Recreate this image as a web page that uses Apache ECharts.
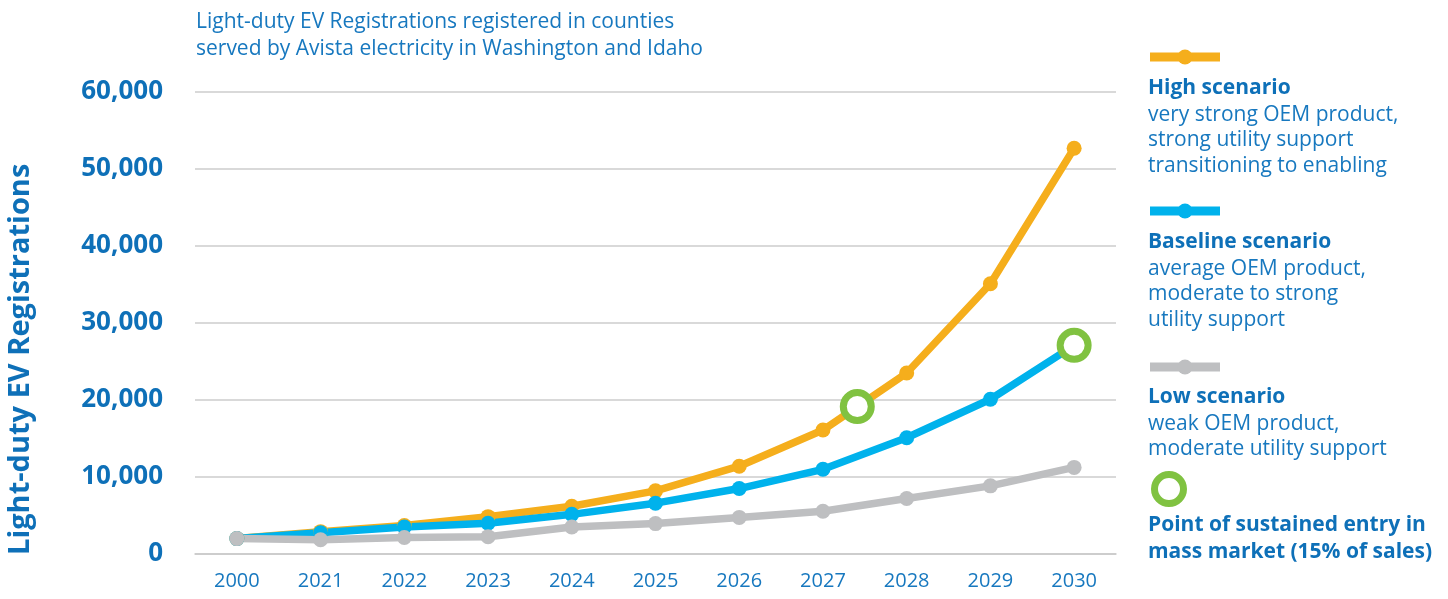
<!DOCTYPE html>
<html>
<head>
<meta charset="utf-8">
<script src="https://cdn.jsdelivr.net/npm/echarts@6/dist/echarts.min.js"></script>
<style>
  html, body { margin: 0; padding: 0; background: #fff; }
  #chart { width: 1448px; height: 599px; }
</style>
</head>
<body>
<div id="chart"></div>
<script>
const years = ['2000', '2021', '2022', '2023', '2024', '2025', '2026', '2027', '2028', '2029', '2030']
const highScenario = [2000, 2900, 3700, 4850, 6200, 8200, 11400, 16100, 23500, 35100, 52700]
const baselineScenario = [2000, 2750, 3500, 4000, 5150, 6600, 8500, 11000, 15100, 20100, 27100]
const lowScenario = [2000, 1850, 2150, 2250, 3500, 3950, 4750, 5550, 7200, 8850, 11250]
// position along the year axis (index), registrations
const massMarketPoints = [[7.41, 19150], [10, 27100]]

const ORANGE = '#F5AE1C'
const BLUE = '#00B2EC'
const GREY = '#BEBFC1'
const GREEN = '#80C241'
const TEXT = '#1778BF'
const LABEL = '#0E70B8'
const FONT = '"Open Sans", "Noto Sans", sans-serif'

const chart = echarts.init(document.getElementById('chart'))

const lineSeries = (name, data, color) => ({
  name,
  type: 'line',
  data,
  symbol: 'circle',
  symbolSize: 15,
  lineStyle: { color, width: 7.5 },
  itemStyle: { color },
  silent: true
})

const legendText = (top, head, lines) => ({
  type: 'text',
  left: 1148,
  top,
  style: {
    text: '{h|' + head + '}' + (lines.length ? '\n' + lines.map(l => '{d|' + l + '}').join('\n') : ''),
    rich: {
      h: { fontFamily: FONT, fontSize: 21, fontWeight: 'bold', fill: LABEL, lineHeight: 27 },
      d: { fontFamily: FONT, fontSize: 21, fill: TEXT, lineHeight: 25.5 }
    }
  }
})

const legendIcon = (y, color) => ({
  type: 'group',
  children: [
    { type: 'line', shape: { x1: 1150, y1: y, x2: 1220, y2: y }, style: { stroke: color, lineWidth: 9 } },
    { type: 'circle', shape: { cx: 1185, cy: y, r: 7.5 }, style: { fill: color } }
  ]
})

const option = {
  animation: false,
  title: {
    text: 'Light-duty EV Registrations registered in counties\nserved by Avista electricity in Washington and Idaho',
    left: 191,
    top: 4,
    textStyle: { fontFamily: FONT, fontSize: 21, fontWeight: 'normal', color: TEXT, lineHeight: 27 }
  },
  grid: { left: 195, right: 332, top: 92, bottom: 45, outerBoundsMode: 'none' },
  xAxis: [
    {
      type: 'category',
      data: years,
      boundaryGap: true,
      axisLine: { lineStyle: { color: '#C9C9C9', width: 1.5 } },
      axisTick: { alignWithLabel: true, length: 8, lineStyle: { color: '#C9C9C9', width: 1.5 } },
      axisLabel: { fontFamily: FONT, fontSize: 20, color: TEXT, margin: 17 }
    },
    { type: 'value', min: -0.5, max: 10.5, show: false }
  ],
  yAxis: {
    type: 'value',
    min: 0,
    max: 60000,
    interval: 10000,
    axisLine: { show: false },
    axisTick: { show: false },
    axisLabel: {
      fontFamily: FONT, fontSize: 26, fontWeight: 'bold', color: LABEL, margin: 32,
      formatter: v => v.toLocaleString('en-US')
    },
    splitLine: { lineStyle: { color: '#CDCDCD', width: 1.5 } }
  },
  series: [
    lineSeries('High scenario', highScenario, ORANGE),
    lineSeries('Baseline scenario', baselineScenario, BLUE),
    lineSeries('Low scenario', lowScenario, GREY),
    {
      name: 'Point of sustained entry in mass market',
      type: 'scatter',
      xAxisIndex: 1,
      data: massMarketPoints,
      symbol: 'circle',
      symbolSize: 28,
      itemStyle: { color: '#fff', borderColor: GREEN, borderWidth: 7, opacity: 1 },
      z: 5,
      silent: true
    }
  ],
  graphic: [
    {
      type: 'text',
      left: 6,
      bottom: 44,
      rotation: Math.PI / 2,
      style: {
        text: 'Light-duty EV Registrations',
        fontFamily: FONT, fontSize: 29, fontWeight: 'bold', fill: LABEL
      }
    },
    legendIcon(57, ORANGE),
    legendText(78, 'High scenario', ['very strong OEM product,', 'strong utility support', 'transitioning to enabling']),
    legendIcon(211, BLUE),
    legendText(232, 'Baseline scenario', ['average OEM product,', 'moderate to strong', 'utility support']),
    legendIcon(367, GREY),
    legendText(387, 'Low scenario', ['weak OEM product,', 'moderate utility support']),
    {
      type: 'circle',
      shape: { cx: 1169, cy: 489, r: 14.5 },
      style: { fill: '#fff', stroke: GREEN, lineWidth: 7 }
    },
    {
      type: 'text',
      left: 1148,
      top: 512,
      style: {
        text: 'Point of sustained entry in\nmass market (15% of sales)',
        fontFamily: FONT, fontSize: 21, fontWeight: 'bold', fill: LABEL, lineHeight: 27
      }
    }
  ]
}

chart.setOption(option)
</script>
</body>
</html>
